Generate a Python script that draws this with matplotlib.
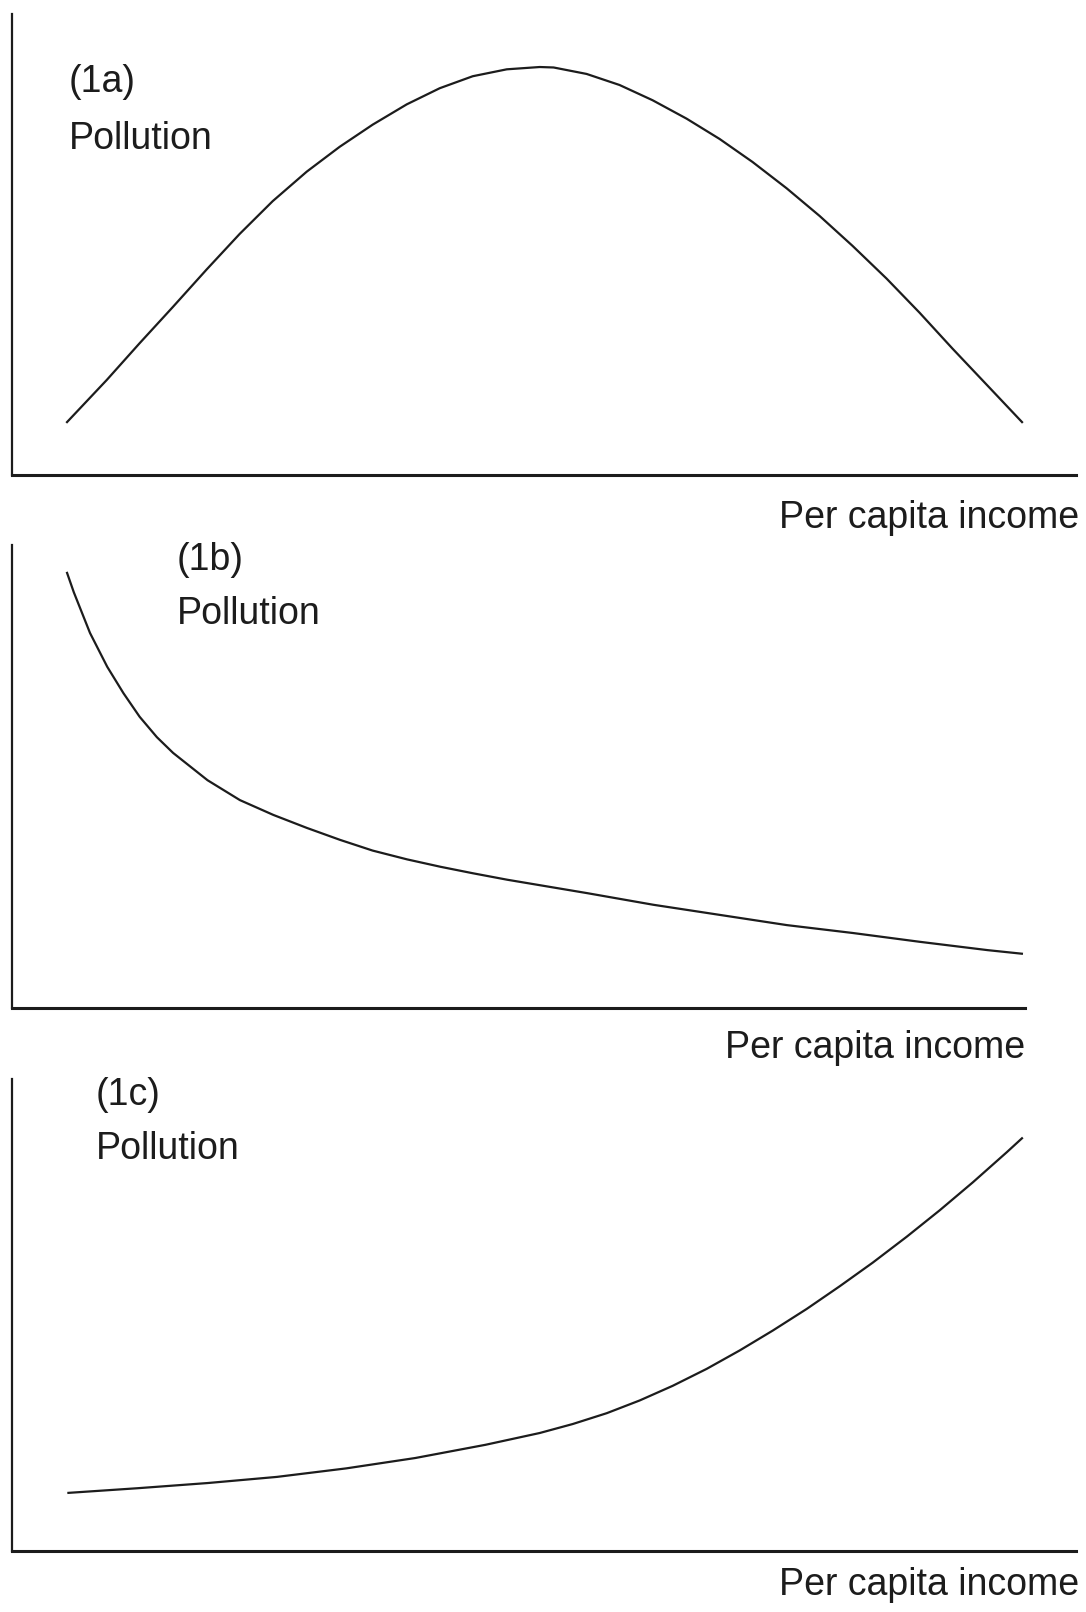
import matplotlib
matplotlib.use("Agg")
import matplotlib.pyplot as plt

plt.rcParams['font.family'] = ['Liberation Sans', 'DejaVu Sans']

# curves (income 0-100 across the axis, pollution 0-100 up the axis)
income_a = [5.1, 8.9, 12.0, 15.1, 18.3, 21.4, 24.5, 27.7, 30.8, 33.9, 37.1, 40.2, 43.3, 46.5, 49.6,
            50.9, 54.0, 57.1, 60.2, 63.4, 66.5, 69.6, 72.8, 75.9, 79.0, 82.2, 85.3, 88.4, 91.6, 95.0]
pollution_a = [11.3, 20.6, 28.6, 36.4, 44.6, 52.3, 59.4, 65.8, 71.2, 76.0, 80.4, 83.9, 86.5, 88.0, 88.5,
               88.4, 87.0, 84.6, 81.3, 77.3, 72.9, 67.9, 62.2, 56.2, 49.7, 42.6, 35.2, 27.4, 19.6, 11.3]

income_b = [5.4, 6.1, 7.7, 9.4, 11.0, 12.6, 14.3, 15.9, 19.3, 22.5, 25.8, 29.1, 32.4, 35.6, 39.0,
            42.3, 45.5, 48.9, 56.8, 63.3, 69.9, 76.5, 83.0, 89.6, 96.3, 99.8]
pollution_b = [94.2, 89.8, 81.0, 73.7, 68.0, 62.9, 58.5, 55.1, 49.2, 44.9, 41.7, 38.9, 36.3, 34.0, 32.1,
               30.5, 29.1, 27.7, 24.8, 22.3, 20.1, 17.9, 16.2, 14.3, 12.5, 11.7]

income_c = [5.2, 11.8, 18.4, 24.9, 31.4, 37.9, 44.5, 49.6, 52.7, 55.9, 59.0, 62.1, 65.3, 68.4, 71.5,
            74.7, 77.8, 80.9, 84.1, 87.2, 90.3, 93.5, 95.0]
pollution_c = [12.3, 13.3, 14.4, 15.7, 17.5, 19.7, 22.5, 25.0, 26.9, 29.2, 31.9, 35.0, 38.6, 42.5, 46.7,
               51.3, 56.1, 61.1, 66.6, 72.2, 78.1, 84.5, 87.6]

panel_labels = ['(1a)', '(1b)', '(1c)']
ylabel = 'Pollution'
xlabel = 'Per capita income'

W, H = 1086, 1612
fig = plt.figure(figsize=(W / 100, H / 100), dpi=100)
ink = '#1c1c1c'

# panel boxes in pixels: left, right, top, bottom
boxes = [(12, 1076, 14, 475), (12, 1025, 545, 1008), (12, 1076, 1079, 1551)]
# label spots in pixels: (tag x, tag y, pollution y, xlabel right, xlabel y)
spots = [(69, 82, 139, 1079, 518), (177, 560, 614, 1025, 1048), (96, 1095, 1149, 1079, 1585)]
curves = [(income_a, pollution_a), (income_b, pollution_b), (income_c, pollution_c)]

for (l, r, t, b), (xs, ys), tag, sp in zip(boxes, curves, panel_labels, spots):
    ax = fig.add_axes([l / W, 1 - b / H, (r - l) / W, (b - t) / H])
    ax.plot(xs, ys, color=ink, lw=1.6, solid_capstyle='butt', solid_joinstyle='round')
    ax.set_xlim(0, 100)
    ax.set_ylim(0, 100)
    ax.spines['top'].set_visible(False)
    ax.spines['right'].set_visible(False)
    ax.spines['left'].set_linewidth(1.6)
    ax.spines['bottom'].set_linewidth(2.2)
    ax.spines['left'].set_color(ink)
    ax.spines['bottom'].set_color(ink)
    ax.set_xticks([])
    ax.set_yticks([])
    ax.patch.set_alpha(0)

    fig.text(sp[0] / W, 1 - sp[1] / H, tag, fontsize=27, color=ink, ha='left', va='center')
    fig.text(sp[0] / W, 1 - sp[2] / H, ylabel, fontsize=27, color=ink, ha='left', va='center')
    fig.text(sp[3] / W, 1 - sp[4] / H, xlabel, fontsize=27, color=ink, ha='right', va='center')

fig.savefig('out.png', dpi=100)
